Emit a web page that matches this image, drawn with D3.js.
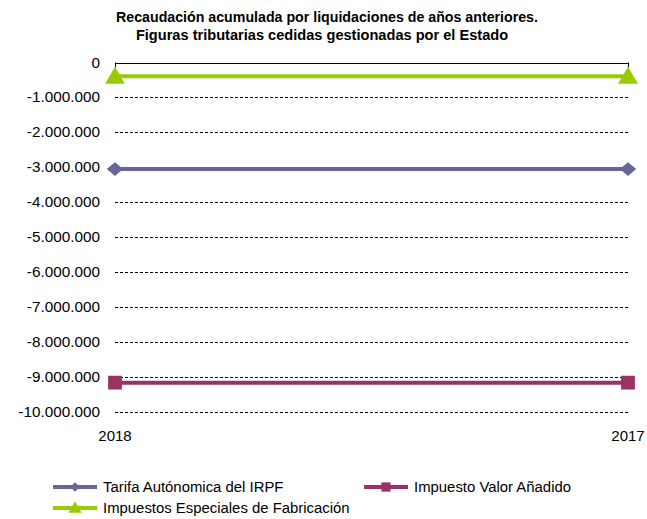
<!DOCTYPE html>
<html lang="es">
<head>
<meta charset="utf-8">
<script src="https://d3js.org/d3.v7.min.js"></script>
<style>
  body { margin: 0; background: #fff; font-family: "Liberation Sans", Arial, sans-serif; }
  text { fill: #000; }
</style>
</head>
<body>
<div id="chart"></div>
<script>
var years = ["2018", "2017"];
var seriesNames = ["Tarifa Autónomica del IRPF", "Impuesto Valor Añadido", "Impuestos Especiales de Fabricación"];
var irpf = [-3050000, -3050000];
var iva = [-9160000, -9160000];
var ief = [-390000, -390000];
var yTicks = [0, -1000000, -2000000, -3000000, -4000000, -5000000, -6000000, -7000000, -8000000, -9000000, -10000000];

var w = 647, h = 519;
var colors = ["#666699", "#993366", "#99cc00"];
var shapes = [d3.symbolDiamond2, d3.symbolSquare, d3.symbolTriangle];
var sizes = [130, 190, 170];

var svg = d3.select("#chart").append("svg")
  .attr("width", w).attr("height", h);

var x = d3.scalePoint().domain(years).range([115, 628]);
var y = d3.scaleLinear().domain([-10000000, 0]).range([412, 62.5]);

var fmt = function(d) {
  return d3.format(",")(d).replace(/,/g, ".").replace("−", "-");
};

// title
svg.append("text").attr("x", 327).attr("y", 22)
  .attr("text-anchor", "middle").style("font-weight", "bold").style("font-size", "14.2px")
  .text("Recaudación acumulada por liquidaciones de años anteriores.");
svg.append("text").attr("x", 322).attr("y", 40)
  .attr("text-anchor", "middle").style("font-weight", "bold").style("font-size", "14.6px")
  .text("Figuras tributarias cedidas gestionadas por el Estado");

// gridlines
svg.selectAll(".grid").data(yTicks.slice(1)).enter().append("line")
  .attr("x1", 115).attr("x2", 628)
  .attr("y1", function(d) { return Math.round(y(d)) + 0.5; })
  .attr("y2", function(d) { return Math.round(y(d)) + 0.5; })
  .attr("stroke", "#000").attr("stroke-width", 1).attr("stroke-dasharray", "3,2");

// y labels
svg.selectAll(".ylab").data(yTicks).enter().append("text")
  .attr("x", 100).attr("y", function(d) { return y(d) + 5; })
  .attr("text-anchor", "end").style("font-size", "15.3px")
  .text(fmt);

// category axis at zero
svg.append("line").attr("x1", 115).attr("x2", 628)
  .attr("y1", Math.round(y(0)) + 0.5).attr("y2", Math.round(y(0)) + 0.5)
  .attr("stroke", "#000");
svg.selectAll(".tick").data(years).enter().append("line")
  .attr("x1", function(d) { return Math.round(x(d)) + 0.5; })
  .attr("x2", function(d) { return Math.round(x(d)) + 0.5; })
  .attr("y1", y(0)).attr("y2", y(0) + 5)
  .attr("stroke", "#000");
svg.selectAll(".xlab").data(years).enter().append("text")
  .attr("x", function(d) { return x(d); }).attr("y", 441)
  .attr("text-anchor", "middle")
  .style("font-size", "15px")
  .text(function(d) { return d; });

// series
var data = [irpf, iva, ief];
var line = d3.line().x(function(d, i) { return x(years[i]); }).y(function(d) { return y(d); });
data.forEach(function(vals, s) {
  svg.append("path").attr("d", line(vals))
    .attr("fill", "none").attr("stroke", colors[s]).attr("stroke-width", 4);
  svg.selectAll(".m" + s).data(vals).enter().append("path")
    .attr("d", d3.symbol().type(shapes[s]).size(sizes[s]))
    .attr("transform", function(d, i) {
      var dy = s === 2 ? 2 : 0;
      var sc = s === 0 ? " scale(1.15,0.95)" : "";
      return "translate(" + x(years[i]) + "," + (y(d) + dy) + ")" + sc;
    })
    .attr("fill", colors[s]);
});

// legend
var legPos = [[53, 487], [364, 487], [53, 508]];
seriesNames.forEach(function(name, s) {
  var p = legPos[s];
  var g = svg.append("g").attr("transform", "translate(" + p[0] + "," + p[1] + ")");
  g.append("line").attr("x1", 0).attr("x2", 44).attr("y1", 0).attr("y2", 0)
    .attr("stroke", colors[s]).attr("stroke-width", 4);
  g.append("path").attr("d", d3.symbol().type(shapes[s]).size(sizes[s] * 0.45))
    .attr("transform", "translate(22," + (s === 2 ? 1 : 0) + ")").attr("fill", colors[s]);
  g.append("text").attr("x", 50).attr("y", 5).style("font-size", "14.9px").text(name);
});
</script>
</body>
</html>
